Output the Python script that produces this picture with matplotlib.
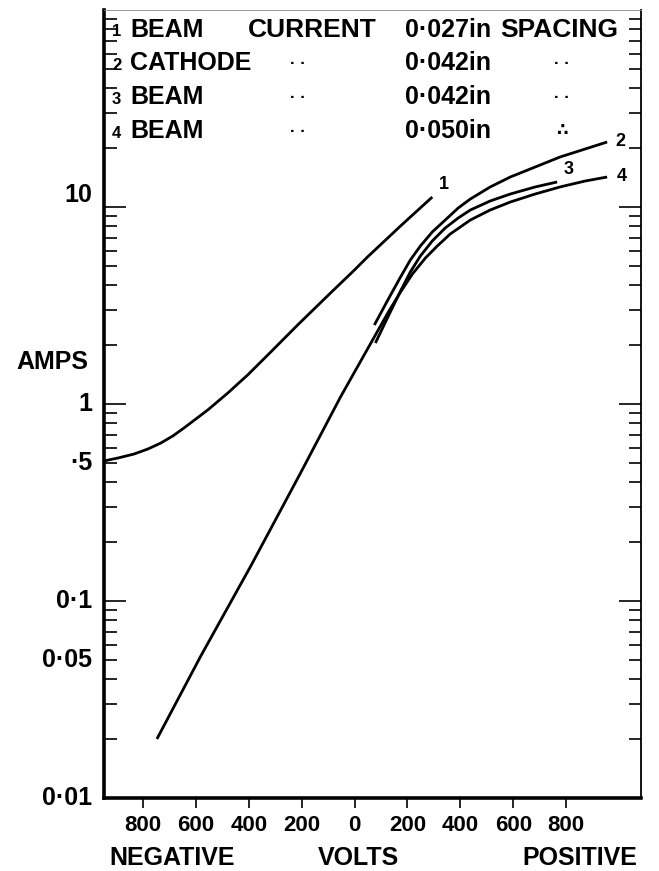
import numpy as np
import matplotlib.pyplot as plt
from matplotlib import font_manager
from matplotlib.ticker import FixedLocator, LogLocator, NullFormatter

W, H = 659, 871

# volts (negative = left of 0) against amps
v1 = [-947, -894, -834, -781, -732, -687, -645, -555, -479, -404, -328, -215, -79, -4, 49, 174, 294]
i1 = [0.514, 0.532, 0.557, 0.591, 0.634, 0.688, 0.755, 0.932, 1.137, 1.404, 1.773, 2.518, 3.791, 4.733, 5.575, 8.01, 11.24]

v2 = [75, 128, 174, 211, 249, 294, 343, 392, 438, 513, 589, 683, 777, 872, 955]
i2 = [2.518, 3.412, 4.413, 5.383, 6.339, 7.469, 8.591, 9.884, 10.98, 12.64, 14.2, 15.96, 17.94, 19.7, 21.38]

v3 = [79, 128, 174, 211, 249, 294, 343, 392, 438, 513, 589, 683, 766]
i3 = [2.04, 2.797, 3.747, 4.678, 5.64, 6.722, 7.825, 8.795, 9.656, 10.73, 11.64, 12.64, 13.4]

v4 = [-747, -581, -392, -204, -53, 30, 79, 128, 174, 219, 268, 313, 362, 438, 513, 589, 683, 777, 872, 955]
i4 = [0.01993, 0.0526, 0.1506, 0.4465, 1.085, 1.712, 2.24, 2.931, 3.703, 4.571, 5.51, 6.339, 7.296, 8.591, 9.656, 10.6, 11.64, 12.64, 13.55, 14.2]

xticks = [-800, -600, -400, -200, 0, 200, 400, 600, 800]
xticklabels = ['800', '600', '400', '200', '0', '200', '400', '600', '800']
yticks = [0.01, 0.05, 0.1, 0.5, 1, 10]
yticklabels = ['0·01', '0·05', '0·1', '·5', '1', '10']

legend_rows = [
    ('1', 'BEAM', 'CURRENT', '0·027in', 'SPACING'),
    ('2', 'CATHODE', '· ·', '0·042in', '· ·'),
    ('3', 'BEAM', '· ·', '0·042in', '· ·'),
    ('4', 'BEAM', '· ·', '0·050in', '∴'),
]

plt.rcParams['font.family'] = ['Liberation Sans', 'DejaVu Sans']
plt.rcParams['font.weight'] = 'bold'

names = {f.name for f in font_manager.fontManager.ttflist}
narrow = 'Liberation Sans Narrow' if 'Liberation Sans Narrow' in names else 'Liberation Sans'

fig = plt.figure(figsize=(W / 100, H / 100), dpi=100)
ax = fig.add_axes([104 / W, 1 - 798 / H, (641 - 104) / W, (798 - 10) / H])

for v, i in [(v1, i1), (v2, i2), (v3, i3), (v4, i4)]:
    ax.plot(v, i, color='black', lw=2.0, solid_capstyle='butt', solid_joinstyle='round')

ax.set_yscale('log')
ax.set_xlim(-947, 1083)
ax.set_ylim(0.01, 100)

ax.yaxis.set_major_locator(FixedLocator([0.01, 0.1, 1, 10]))
ax.yaxis.set_minor_locator(LogLocator(base=10, subs=np.arange(2, 10)))
ax.yaxis.set_major_formatter(NullFormatter())
ax.yaxis.set_minor_formatter(NullFormatter())
ax.tick_params(axis='y', which='major', direction='in', length=16, width=1.2,
               left=True, right=True)
ax.tick_params(axis='y', which='minor', direction='in', length=9, width=1.2,
               left=True, right=True)

for val, lab in zip(yticks, yticklabels):
    ax.text(-0.022, val, lab, transform=ax.get_yaxis_transform(),
            ha='right', va='bottom' if val == 10 else 'center',
            fontsize=18, fontweight='bold')

ax.set_xticks(xticks)
ax.set_xticklabels(xticklabels, fontsize=18 if narrow != 'Liberation Sans' else 16,
                   fontweight='bold', family=[narrow, 'DejaVu Sans'])
ax.tick_params(axis='x', which='major', direction='out', length=7, width=1.2, pad=5)

ax.spines['left'].set_linewidth(2.6)
ax.spines['bottom'].set_linewidth(2.6)
ax.spines['right'].set_linewidth(1.3)
ax.spines['top'].set_linewidth(0.6)
ax.spines['top'].set_color('#888888')


def px(x, y):
    return x / W, 1 - y / H


fig.text(*px(52, 362), 'AMPS', ha='center', va='center', fontsize=18, fontweight='bold')
fig.text(*px(172, 858), 'NEGATIVE', ha='center', va='center', fontsize=18, fontweight='bold')
fig.text(*px(358, 858), 'VOLTS', ha='center', va='center', fontsize=18, fontweight='bold')
fig.text(*px(580, 858), 'POSITIVE', ha='center', va='center', fontsize=18, fontweight='bold')

# curve numbers
ax.text(318, 11.8, '1', fontsize=13, fontweight='bold', va='bottom')
ax.text(985, 21.6, '2', fontsize=13, fontweight='bold', va='center')
ax.text(790, 14.0, '3', fontsize=13, fontweight='bold', va='bottom')
ax.text(990, 14.2, '4', fontsize=13, fontweight='bold', va='center')

# key text
for r, row in zip([30, 63, 97, 131], legend_rows):
    num, a, b, c, d = row
    fig.text(*px(112, r + 2), num, fontsize=12, fontweight='bold', va='center')
    fig.text(*px(130, r), a, fontsize=18, fontweight='bold', va='center')
    if b == 'CURRENT':
        fig.text(*px(248, r), b, fontsize=19, fontweight='bold', va='center')
    else:
        fig.text(*px(298, r), b, fontsize=12, fontweight='bold', va='center', ha='center')
    fig.text(*px(405, r), c, fontsize=18, fontweight='bold', va='center')
    if d == 'SPACING':
        fig.text(*px(500, r), d, fontsize=19, fontweight='bold', va='center')
    else:
        fig.text(*px(562, r), d, fontsize=12, fontweight='bold', va='center', ha='center')

fig.savefig('out.png', dpi=100)
